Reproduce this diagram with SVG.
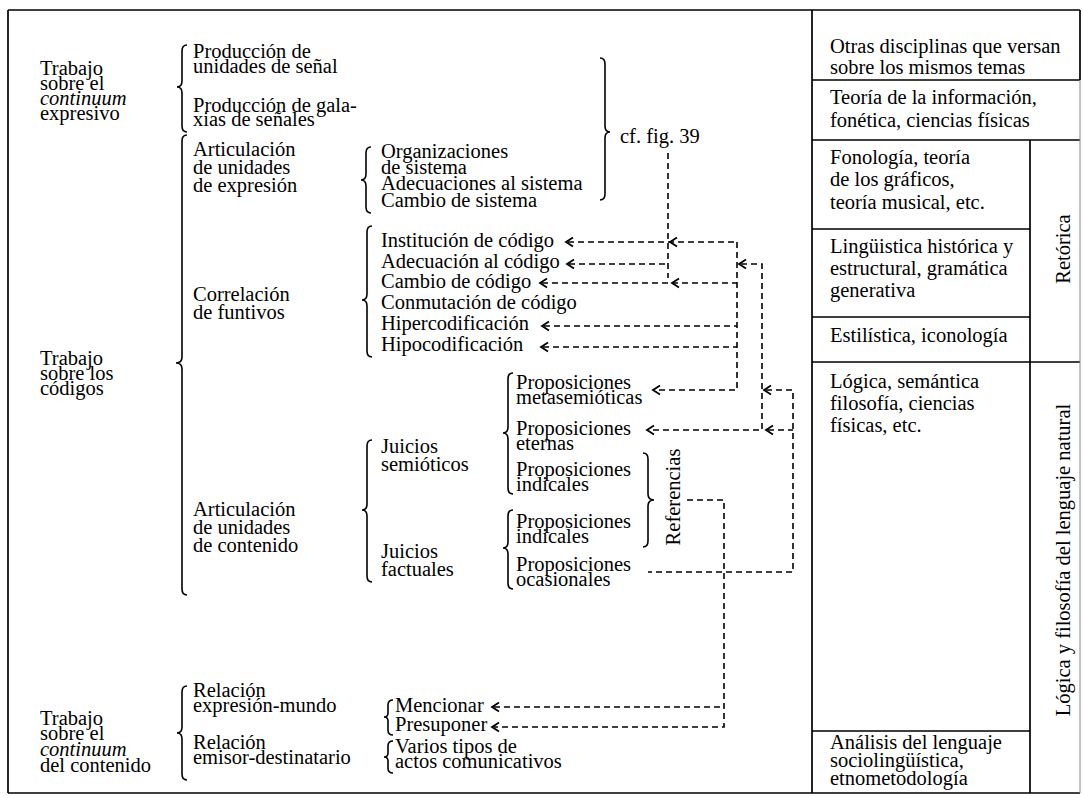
<svg xmlns="http://www.w3.org/2000/svg" width="1083" height="798" viewBox="0 0 1083 798">
<style>
.t{font-family:"Liberation Serif","Times New Roman",serif;font-size:20.5px;fill:#000}
.i{font-style:italic}
.ln{stroke:#000;stroke-width:1.7;fill:none}
.br{stroke:#000;stroke-width:1.6;fill:none}
.dash{stroke:#000;stroke-width:1.6;fill:none;stroke-dasharray:6 4}
.ah{stroke:#000;stroke-width:1.8;fill:none}
</style>
<defs>
<path id="ah" class="ah" d="M7,-4.5 L0,0 L7,4.5"/>
</defs>
<rect width="1083" height="798" fill="#fff"/>
<g id="frame">
<path class="ln" d="M8,10 H1080 M8,10 V793 M8,793 H1080 M812,10 V793 M1030,140 V793 M812,80 H1080 M812,140 H1080 M812,229 H1030 M812,317 H1030 M812,362 H1080 M812,731 H1030 M1080,10 V80"/>
<path d="M1080,80 V793" stroke="#888" stroke-width="1" fill="none"/>
</g>
<g id="trabajo-expresivo">
<text class="t"><tspan x="40" y="75">Trabajo</tspan><tspan x="40" y="90">sobre el</tspan><tspan x="40" y="105" class="i">continuum</tspan><tspan x="40" y="120">expresivo</tspan></text>
<path class="br" d="M187,45 Q182,45 182,51 L182,81 Q182,87 177,87 Q182,87 182,93 L182,126 Q182,132 187,132"/>
</g>
<g id="produccion-unidades"><text class="t"><tspan x="193" y="58">Producción de</tspan><tspan x="193" y="73">unidades de señal</tspan></text></g>
<g id="produccion-galaxias"><text class="t"><tspan x="193" y="112">Producción de gala-</tspan><tspan x="193" y="126">xias de señales</tspan></text></g>
<g id="cf-fig">
<path class="br" d="M600,58 Q605,58 605,64 L605,126 Q605,132 610,132 Q605,132 605,138 L605,194 Q605,200 600,200"/>
<text class="t" x="620" y="143">cf. fig. 39</text>
</g>
<g id="trabajo-codigos">
<text class="t"><tspan x="40" y="365">Trabajo</tspan><tspan x="40" y="380">sobre los</tspan><tspan x="40" y="395">códigos</tspan></text>
<path class="br" d="M187,135 Q182,135 182,141 L182,357 Q182,363 176,363 Q182,363 182,369 L182,589 Q182,595 187,595"/>
</g>
<g id="articulacion-expresion">
<text class="t"><tspan x="193" y="156">Articulación</tspan><tspan x="193" y="174">de unidades</tspan><tspan x="193" y="192">de expresión</tspan></text>
<path class="br" d="M371,147 Q366,147 366,153 L366,174 Q366,180 361,180 Q366,180 366,186 L366,207 Q366,213 371,213"/>
</g>
<g id="sistema"><text class="t"><tspan x="381" y="158">Organizaciones</tspan><tspan x="381" y="174">de sistema</tspan><tspan x="381" y="190">Adecuaciones al sistema</tspan><tspan x="381" y="207">Cambio de sistema</tspan></text></g>
<g id="correlacion">
<text class="t"><tspan x="193" y="301">Correlación</tspan><tspan x="193" y="319">de funtivos</tspan></text>
<path class="br" d="M372,226 Q367,226 367,232 L367,294 Q367,300 362,300 Q367,300 367,306 L367,351 Q367,357 372,357"/>
</g>
<g id="institucion"><text class="t" x="381" y="247">Institución de código</text></g>
<g id="adecuacion"><text class="t" x="381" y="268">Adecuación al código</text></g>
<g id="cambio"><text class="t" x="381" y="288">Cambio de código</text></g>
<g id="conmutacion"><text class="t" x="381" y="309">Conmutación de código</text></g>
<g id="hipercodificacion"><text class="t" x="381" y="330">Hipercodificación</text></g>
<g id="hipocodificacion"><text class="t" x="381" y="351">Hipocodificación</text></g>
<g id="articulacion-contenido">
<text class="t"><tspan x="193" y="516">Articulación</tspan><tspan x="193" y="534">de unidades</tspan><tspan x="193" y="552">de contenido</tspan></text>
<path class="br" d="M372,440 Q367,440 367,446 L367,504 Q367,510 362,510 Q367,510 367,516 L367,576 Q367,582 372,582"/>
</g>
<g id="juicios-semioticos">
<text class="t"><tspan x="381" y="453">Juicios</tspan><tspan x="381" y="471">semióticos</tspan></text>
<path class="br" d="M513,373 Q508,373 508,379 L508,427 Q508,433 503,433 Q508,433 508,439 L508,488 Q508,494 513,494"/>
</g>
<g id="juicios-factuales">
<text class="t"><tspan x="381" y="558">Juicios</tspan><tspan x="381" y="576">factuales</tspan></text>
<path class="br" d="M513,510 Q508,510 508,516 L508,542 Q508,548 503,548 Q508,548 508,554 L508,583 Q508,589 513,589"/>
</g>
<g id="prop-metasemioticas"><text class="t"><tspan x="516" y="389">Proposiciones</tspan><tspan x="516" y="404">metasemióticas</tspan></text></g>
<g id="prop-eternas"><text class="t"><tspan x="516" y="435">Proposiciones</tspan><tspan x="516" y="450">eternas</tspan></text></g>
<g id="prop-indicales-1"><text class="t"><tspan x="516" y="476">Proposiciones</tspan><tspan x="516" y="491">indicales</tspan></text></g>
<g id="prop-indicales-2"><text class="t"><tspan x="516" y="528">Proposiciones</tspan><tspan x="516" y="543">indicales</tspan></text></g>
<g id="prop-ocasionales"><text class="t"><tspan x="516" y="571">Proposiciones</tspan><tspan x="516" y="586">ocasionales</tspan></text></g>
<g id="referencias">
<path class="br" stroke-width="2.6" d="M643,453 Q648,453 648,459 L648,494 Q648,500 654,500 Q648,500 648,506 L648,541 Q648,547 643,547"/>
<text class="t" x="680" y="497" text-anchor="middle" transform="rotate(-90 680 497)">Referencias</text>
</g>
<g id="trabajo-contenido"><text class="t"><tspan x="40" y="725">Trabajo</tspan><tspan x="40" y="740">sobre el</tspan><tspan x="40" y="756" class="i">continuum</tspan><tspan x="40" y="772">del contenido</tspan></text></g>
<g id="relacion-mundo">
<text class="t"><tspan x="193" y="697">Relación</tspan><tspan x="193" y="712">expresión-mundo</tspan></text>
<path class="br" d="M187,686 Q182,686 182,692 L182,727 Q182,733 177,733 Q182,733 182,739 L182,774 Q182,780 187,780"/>
</g>
<g id="relacion-emisor"><text class="t"><tspan x="193" y="749">Relación</tspan><tspan x="193" y="764">emisor-destinatario</tspan></text></g>
<g id="mencionar">
<path class="br" d="M393,700 Q388,700 388,705 L388,713 Q388,717 384,717 Q388,717 388,721 L388,730 Q388,735 393,735"/>
<text class="t"><tspan x="395" y="712">Mencionar</tspan><tspan x="395" y="731">Presuponer</tspan></text>
</g>
<g id="varios">
<path class="br" d="M393,741 Q388,741 388,746 L388,753 Q388,757 384,757 Q388,757 388,761 L388,768 Q388,773 393,773"/>
<text class="t"><tspan x="395" y="753">Varios tipos de</tspan><tspan x="395" y="768">actos comunicativos</tspan></text>
</g>
<g id="otras"><text class="t"><tspan x="830" y="53">Otras disciplinas que versan</tspan><tspan x="830" y="74">sobre los mismos temas</tspan></text></g>
<g id="teoria-informacion"><text class="t"><tspan x="830" y="104">Teoría de la información,</tspan><tspan x="830" y="127">fonética, ciencias físicas</tspan></text></g>
<g id="fonologia"><text class="t"><tspan x="830" y="164">Fonología, teoría</tspan><tspan x="830" y="186">de los gráficos,</tspan><tspan x="830" y="209">teoría musical, etc.</tspan></text></g>
<g id="linguistica"><text class="t"><tspan x="830" y="253">Lingüistica histórica y</tspan><tspan x="830" y="275">estructural, gramática</tspan><tspan x="830" y="297">generativa</tspan></text></g>
<g id="estilistica"><text class="t" x="830" y="342">Estilística, iconología</text></g>
<g id="logica"><text class="t"><tspan x="830" y="388">Lógica, semántica</tspan><tspan x="830" y="410">filosofía, ciencias</tspan><tspan x="830" y="432">físicas, etc.</tspan></text></g>
<g id="analisis"><text class="t"><tspan x="830" y="749">Análisis del lenguaje</tspan><tspan x="830" y="767">sociolingüística,</tspan><tspan x="830" y="785">etnometodología</tspan></text></g>
<g id="retorica"><text class="t" x="1070" y="249" text-anchor="middle" transform="rotate(-90 1070 249)">Retórica</text></g>
<g id="logica-filosofia"><text class="t" x="1070" y="560" text-anchor="middle" transform="rotate(-90 1070 560)">Lógica y filosofía del lenguaje natural</text></g>
<g id="connectors">
<path class="dash" d="M668,153 V278"/>
<path class="dash" d="M568,242 H737"/>
<path class="dash" d="M569,264 H668"/>
<path class="dash" d="M542,283 H737"/>
<path class="dash" d="M544,326 H737"/>
<path class="dash" d="M543,347 H737"/>
<path class="dash" d="M737,242 V390 H655"/>
<path class="dash" d="M741,264 H762 V430 H649"/>
<path class="dash" d="M766,390 H793 V572 H648"/>
<path class="dash" d="M768,430 H793"/>
<path class="dash" d="M687,500 H724 V727 H494"/>
<path class="dash" d="M494,707 H724"/>
<use href="#ah" x="566" y="242"/>
<use href="#ah" x="670" y="242"/>
<use href="#ah" x="567" y="264"/>
<use href="#ah" x="540" y="283"/>
<use href="#ah" x="672" y="283"/>
<use href="#ah" x="542" y="326"/>
<use href="#ah" x="541" y="347"/>
<use href="#ah" x="653" y="390"/>
<use href="#ah" x="739" y="264"/>
<use href="#ah" x="764" y="390"/>
<use href="#ah" x="647" y="430"/>
<use href="#ah" x="766" y="430"/>
<use href="#ah" x="492" y="707"/>
<use href="#ah" x="492" y="727"/>
</g>
</svg>
